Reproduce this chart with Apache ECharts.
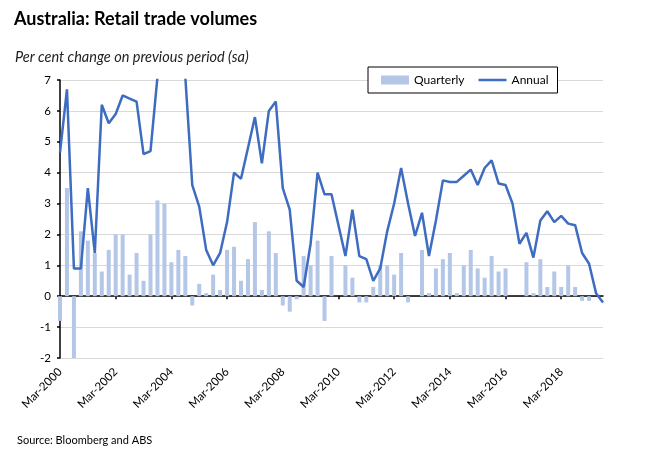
<!DOCTYPE html>
<html><head><meta charset="utf-8">
<script src="https://cdn.jsdelivr.net/npm/echarts@6/dist/echarts.min.js"></script>
<style>html,body{margin:0;padding:0;background:#fff}#c{width:650px;height:455px}</style>
</head><body><div id="c"></div>
<script>
// Category labels: quarters Mar-2000 .. Sep-2019
const quarterMonths = ['Mar', 'Jun', 'Sep', 'Dec'];
const firstYear = 2000;
const quarterCount = 79;
const categories = [];
for (let i = 0; i < quarterCount; i++) {
  categories.push(quarterMonths[i % 4] + '-' + (firstYear + Math.floor(i / 4)));
}

// Quarterly % change (bars)
const quarterly = [
  -0.8, 3.5, -3.9, 2.1, 1.8, 1.4, 0.8, 1.5, 2.0, 2.0,
  0.7, 1.4, 0.5, 2.0, 3.1, 3.0, 1.1, 1.5, 1.3, -0.3,
  0.4, 0.1, 0.7, 0.2, 1.5, 1.6, 0.5, 1.2, 2.4, 0.2,
  2.1, 1.4, -0.3, -0.5, -0.1, 1.3, 1.0, 1.8, -0.8, 1.3,
  0.0, 1.0, 0.6, -0.2, -0.2, 0.3, 1.0, 1.0, 0.7, 1.4,
  -0.2, 0.0, 1.5, 0.1, 0.9, 1.2, 1.4, 0.1, 1.0, 1.5,
  0.9, 0.6, 1.3, 0.8, 0.9, 0.0, 0.0, 1.1, 0.1, 1.2,
  0.3, 0.8, 0.3, 1.0, 0.3, -0.15, -0.15, null, null
];

// Annual % change (line)
const annual = [
  4.65, 6.7, 0.9, 0.9, 3.5, 1.4, 6.2, 5.6, 5.9, 6.5,
  6.4, 6.3, 4.6, 4.7, 7.1, 8.8, 9.4, 8.9, 7.1, 3.6,
  2.9, 1.5, 1.0, 1.4, 2.4, 4.0, 3.8, 4.8, 5.8, 4.3,
  6.0, 6.3, 3.5, 2.8, 0.5, 0.3, 1.7, 4.0, 3.3, 3.3,
  2.3, 1.3, 2.8, 1.3, 1.2, 0.5, 0.9, 2.1, 3.0, 4.15,
  3.0, 1.95, 2.7, 1.3, 2.45, 3.75, 3.7, 3.7, 3.9, 4.1,
  3.6, 4.15, 4.4, 3.65, 3.6, 3.0, 1.7, 2.05, 1.25, 2.45,
  2.75, 2.4, 2.6, 2.35, 2.3, 1.4, 1.05, 0.1, -0.2
];

const yMin = -2, yMax = 7, yStep = 1;
const labelEvery = 8;

const FONT = 'Lato';
const LINE_COLOR = '#3d6cc0';
const BAR_COLOR = '#b4c7e7';
const chart = echarts.init(document.getElementById('c'), null, { renderer: 'canvas' });
chart.setOption({
  animation: false,
  backgroundColor: '#fff',
  title: [
    { text: 'Australia: Retail trade volumes', left: 9, top: 5,
      textStyle: { fontFamily: FONT, fontWeight: 'bold', fontSize: 18, color: '#000' } },
    { text: 'Per cent change on previous period (sa)', left: 10, top: 45,
      textStyle: { fontFamily: FONT, fontStyle: 'italic', fontWeight: 'normal', fontSize: 14.5, color: '#222' } },
    { text: 'Source: Bloomberg and ABS', left: 12, top: 430,
      textStyle: { fontFamily: FONT, fontWeight: 'normal', fontSize: 11, color: '#000' } }
  ],
  legend: {
    left: 368, top: 67,
    padding: [7, 9, 7, 13],
    itemGap: 14, itemWidth: 28, itemHeight: 9,
    borderColor: '#000', borderWidth: 1, backgroundColor: '#fff', borderRadius: 0,
    textStyle: { fontFamily: FONT, fontSize: 12, color: '#000' },
    data: [
      { name: 'Quarterly', icon: 'rect' },
      { name: 'Annual', icon: 'path://M0,0L28,0L28,2.5L0,2.5Z', itemStyle: { color: LINE_COLOR } }
    ]
  },
  grid: { left: 60, right: 47, top: 80, bottom: 97 },
  xAxis: [
    {
      type: 'category', data: categories, boundaryGap: false,
      axisLine: { onZero: true, lineStyle: { color: '#000', width: 1.5 } },
      axisTick: { interval: labelEvery - 1, length: 3, lineStyle: { color: '#000', width: 1.5 } },
      axisLabel: { show: false }, splitLine: { show: false }
    },
    {
      type: 'category', data: categories, boundaryGap: false, position: 'bottom',
      axisLine: { show: false, onZero: false }, axisTick: { show: false },
      axisLabel: { interval: labelEvery - 1, rotate: 45, margin: 12, fontFamily: FONT, fontSize: 11.5, color: '#000' },
      splitLine: { show: false }
    }
  ],
  yAxis: {
    type: 'value', min: yMin, max: yMax, interval: yStep,
    axisLine: { show: true, lineStyle: { color: '#000', width: 1.5 } },
    axisTick: { show: true, length: 3, lineStyle: { color: '#000', width: 1.5 } },
    axisLabel: { fontFamily: FONT, fontSize: 11.5, color: '#000', margin: 9 },
    splitLine: { lineStyle: { color: '#d9d9d9', width: 1 } }
  },
  series: [
    { name: 'Quarterly', type: 'bar', data: quarterly, barWidth: 4, clip: true,
      itemStyle: { color: BAR_COLOR } },
    { name: 'Annual', type: 'line', data: annual, symbol: 'none', clip: true,
      lineStyle: { color: LINE_COLOR, width: 2.5 }, itemStyle: { color: LINE_COLOR } }
  ]
});
</script>
</body></html>
